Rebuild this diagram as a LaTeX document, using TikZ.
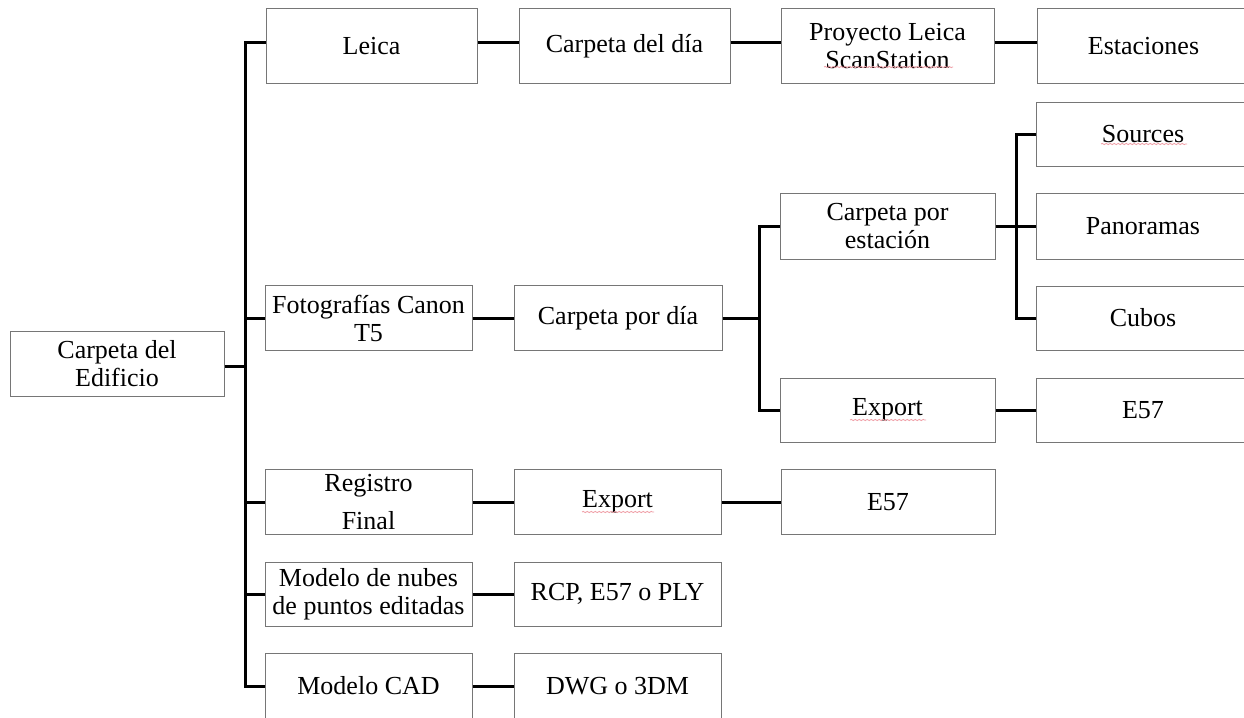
\documentclass[tikz,border=0pt]{standalone}
\usepackage{fontspec}
\setmainfont{Liberation Serif}
\usetikzlibrary{decorations.pathmorphing}
\definecolor{boxgray}{HTML}{767676}
\definecolor{spellred}{HTML}{F0A0A8}
\begin{document}
\begin{tikzpicture}[x=1pt,y=-1pt,
  box/.style={draw=boxgray, line width=1pt, fill=white, align=center, inner sep=0pt,
    font=\fontsize{26}{28}\selectfont},
  link/.style={line width=3pt, line join=miter},
  spell/.style={draw=spellred, line width=0.8pt, decorate,
    decoration={snake, amplitude=0.6pt, segment length=4pt}}]
\useasboundingbox (0,0) rectangle (1244,717);
\clip (0,0) rectangle (1244,717);
\fill[white] (0,0) rectangle (1244,717);

% root
\node[box, minimum width=214pt, minimum height=65pt] (root) at (117,363.5) {Carpeta del\\Edificio};

% column 1
\node[box, minimum width=211pt, minimum height=74pt] (leica) at (371.5,46) {Leica};
\node[box, minimum width=207pt, minimum height=65pt] (foto) at (368.5,318) {Fotografías Canon\\T5};
\node[box, minimum width=207pt, minimum height=65pt] (reg) at (368.5,502) {Registro\\[10pt]Final};
\node[box, minimum width=207pt, minimum height=64pt] (mod) at (368.5,594) {Modelo de nubes\\de puntos editadas};
\node[box, minimum width=207pt, minimum height=65pt] (cad) at (368.5,686) {Modelo CAD};

% column 2
\node[box, minimum width=211pt, minimum height=74pt] (cdia) at (624.5,46) {Carpeta del día};
\node[box, minimum width=208pt, minimum height=65pt] (cpd) at (618,318) {Carpeta por día};
\node[box, minimum width=207pt, minimum height=65pt] (exp1) at (617.5,502) {Export};
\node[box, minimum width=207pt, minimum height=64pt] (rcp) at (617.5,594) {RCP, E57 o PLY};
\node[box, minimum width=207pt, minimum height=65pt] (dwg) at (617.5,686) {DWG o 3DM};

% column 3
\node[box, minimum width=213pt, minimum height=75pt] (proy) at (887.5,46) {Proyecto Leica\\ScanStation};
\node[box, minimum width=215pt, minimum height=66pt] (cpe) at (887.5,226) {Carpeta por\\estación};
\node[box, minimum width=215pt, minimum height=64pt] (exp2) at (887.5,410) {Export};
\node[box, minimum width=214pt, minimum height=65pt] (e57b) at (888,502) {E57};

% column 4
\node[box, minimum width=213pt, minimum height=74pt] (est) at (1143.5,46) {Estaciones};
\node[box, minimum width=214pt, minimum height=64pt] (src) at (1143,134) {Sources};
\node[box, minimum width=214pt, minimum height=66pt] (pan) at (1143,226) {Panoramas};
\node[box, minimum width=214pt, minimum height=64pt] (cub) at (1143,318) {Cubos};
\node[box, minimum width=214pt, minimum height=64pt] (e57a) at (1143,410) {E57};

% junctions
\coordinate (j0) at (245,366);
\coordinate (j1) at (759,318);
\coordinate (j2) at (1016,226);

% trunk
\draw[link] (root.east |- j0) -- (j0);
\draw[link] (j0) |- ([yshift=3pt]leica.west);
\draw[link] (j0) |- (foto.west);
\draw[link] (j0) |- (reg.west);
\draw[link] (j0) |- (mod.west);
\draw[link] (j0) |- (cad.west);

% row Leica
\draw[link] ([yshift=3pt]leica.east) -- ([yshift=3pt]cdia.west);
\draw[link] ([yshift=3pt]cdia.east) -- ([yshift=3pt]proy.west);
\draw[link] ([yshift=3pt]proy.east) -- ([yshift=3pt]est.west);

% row Fotografias
\draw[link] (foto.east) -- (cpd.west);
\draw[link] (cpd.east) -- (j1);
\draw[link] (j1) |- (cpe.west);
\draw[link] (j1) |- (exp2.west);
\draw[link] (cpe.east) -- (pan.west);
\draw[link] (j2) |- (src.west);
\draw[link] (j2) |- (cub.west);
\draw[link] (exp2.east) -- (e57a.west);

% rows below
\draw[link] (reg.east) -- (exp1.west);
\draw[link] (exp1.east) -- (e57b.west);
\draw[link] (mod.east) -- (rcp.west);
\draw[link] (cad.east) -- (dwg.west);

% spell-check underlines
\draw[spell] (824,67) -- (953,67);
\draw[spell] (1101,144) -- (1187,144);
\draw[spell] (850,420) -- (926,420);
\draw[spell] (582,512) -- (654,512);
\end{tikzpicture}
\end{document}
